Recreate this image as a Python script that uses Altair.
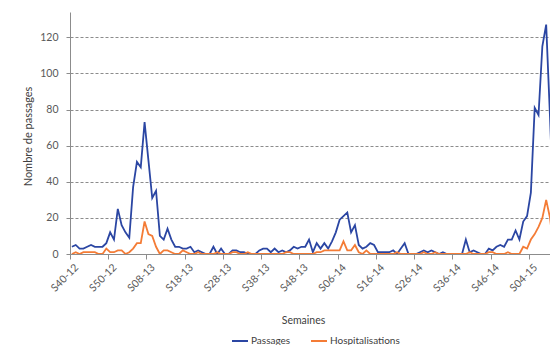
import altair as alt
import pandas as pd

tick_labels = ["S40-12", "S50-12", "S08-13", "S18-13", "S28-13", "S38-13", "S48-13",
               "S06-14", "S16-14", "S26-14", "S36-14", "S46-14", "S04-15", "S14-15"]
tick_positions = [0, 10, 20, 30, 40, 50, 60, 70, 80, 90, 100, 110, 120, 130]

series_names = ["Passages", "Hospitalisations"]
series_colors = ["#2B46A3", "#F47C36"]

passages = [4, 5, 3, 3, 4, 5, 4, 4, 4, 6,
            12, 8, 25, 16, 12, 9, 37, 51, 48, 73,
            52, 31, 35, 10, 8, 14, 8, 4, 4, 3,
            3, 4, 1, 2, 1, 0, 0, 4, 0, 3,
            0, 0, 2, 2, 1, 1, 0, 0, 0, 2,
            3, 3, 1, 3, 1, 2, 1, 2, 4, 3,
            4, 4, 8, 1, 6, 3, 6, 3, 7, 12,
            19, 21, 23, 12, 16, 5, 3, 4, 6, 5,
            1, 1, 1, 1, 2, 0, 3, 6, 0, 0,
            0, 1, 2, 1, 2, 1, 0, 1, 0, 0,
            0, 0, 0, 8, 1, 2, 1, 0, 0, 3,
            2, 4, 5, 4, 8, 8, 13, 8, 18, 21,
            34, 81, 77, 115, 127, 76, 20]

hospitalisations = [0, 1, 0, 1, 1, 1, 1, 0, 0, 3,
                    1, 1, 2, 2, 0, 1, 3, 6, 6, 18,
                    11, 10, 4, 0, 2, 2, 1, 0, 0, 2,
                    1, 0, 0, 1, 0, 0, 0, 0, 1, 0,
                    0, 0, 1, 1, 0, 0, 1, 0, 0, 0,
                    0, 0, 0, 0, 0, 0, 1, 1, 0, 0,
                    0, 0, 0, 0, 1, 1, 2, 2, 2, 2,
                    2, 7, 2, 2, 5, 1, 0, 2, 0, 0,
                    0, 0, 0, 0, 0, 1, 0, 0, 0, 0,
                    0, 0, 1, 0, 0, 1, 0, 0, 0, 0,
                    0, 0, 0, 0, 1, 0, 0, 0, 0, 1,
                    1, 0, 0, 0, 1, 0, 0, 0, 4, 3,
                    8, 11, 15, 20, 30, 20, 2]

rows = []
for name, vals in zip(series_names, [passages, hospitalisations]):
    for i, v in enumerate(vals):
        rows.append({"semaine": i + 0.5, "valeur": v, "serie": name})
df = pd.DataFrame(rows)

label_expr = "[" + ",".join("'" + t + "'" for t in tick_labels) + "][round(datum.value / 10)]"

FONT = "Lato"

chart = alt.Chart(df).mark_line(clip=True, strokeWidth=1.8).encode(
    x=alt.X(
        "semaine:Q",
        scale=alt.Scale(domain=[0, 125.5], nice=False, zero=False),
        axis=alt.Axis(
            values=tick_positions,
            labelExpr=label_expr,
            labelAngle=-45,
            labelOffset=3,
            labelPadding=3,
            tickSize=5,
            grid=False,
            title="Semaines",
            titleX=233,
            titleY=66,
            titleBaseline="middle",
            titleAlign="center",
            titleFontWeight="normal",
        ),
    ),
    y=alt.Y(
        "valeur:Q",
        scale=alt.Scale(domain=[0, 134], nice=False),
        axis=alt.Axis(
            values=[0, 20, 40, 60, 80, 100, 120],
            grid=True,
            gridDash=[3, 2],
            gridColor="#8c8c8c",
            gridWidth=1,
            tickSize=4,
            labelPadding=8,
            title="Nombre de passages",
            titleX=-42,
            titleY=124,
            titleAngle=-90,
            titleBaseline="middle",
            titleAlign="center",
            titleFontWeight="normal",
            titleFontSize=11,
        ),
    ),
    color=alt.Color(
        "serie:N",
        scale=alt.Scale(domain=series_names, range=series_colors),
        legend=alt.Legend(
            orient="none",
            legendX=161,
            legendY=320,
            direction="horizontal",
            title=None,
            symbolType="stroke",
            symbolSize=256,
            symbolStrokeWidth=2,
            labelOffset=2,
            columnPadding=16,
            labelFont=FONT,
            labelFontSize=10,
            labelColor="#404040",
        ),
    ),
).properties(
    width=480,
    height=242,
    padding={"left": 62, "top": 4, "right": 0, "bottom": 91},
    autosize=alt.AutoSizeParams(type="none"),
).configure_view(
    stroke=None
).configure_axis(
    labelFont=FONT,
    labelFontSize=10.5,
    labelColor="#595959",
    titleFont=FONT,
    titleFontSize=10.5,
    titleColor="#404040",
    domainColor="#8c8c8c",
    tickColor="#8c8c8c",
)

chart.save("out.html", embed_options={"renderer": "svg", "actions": False})
